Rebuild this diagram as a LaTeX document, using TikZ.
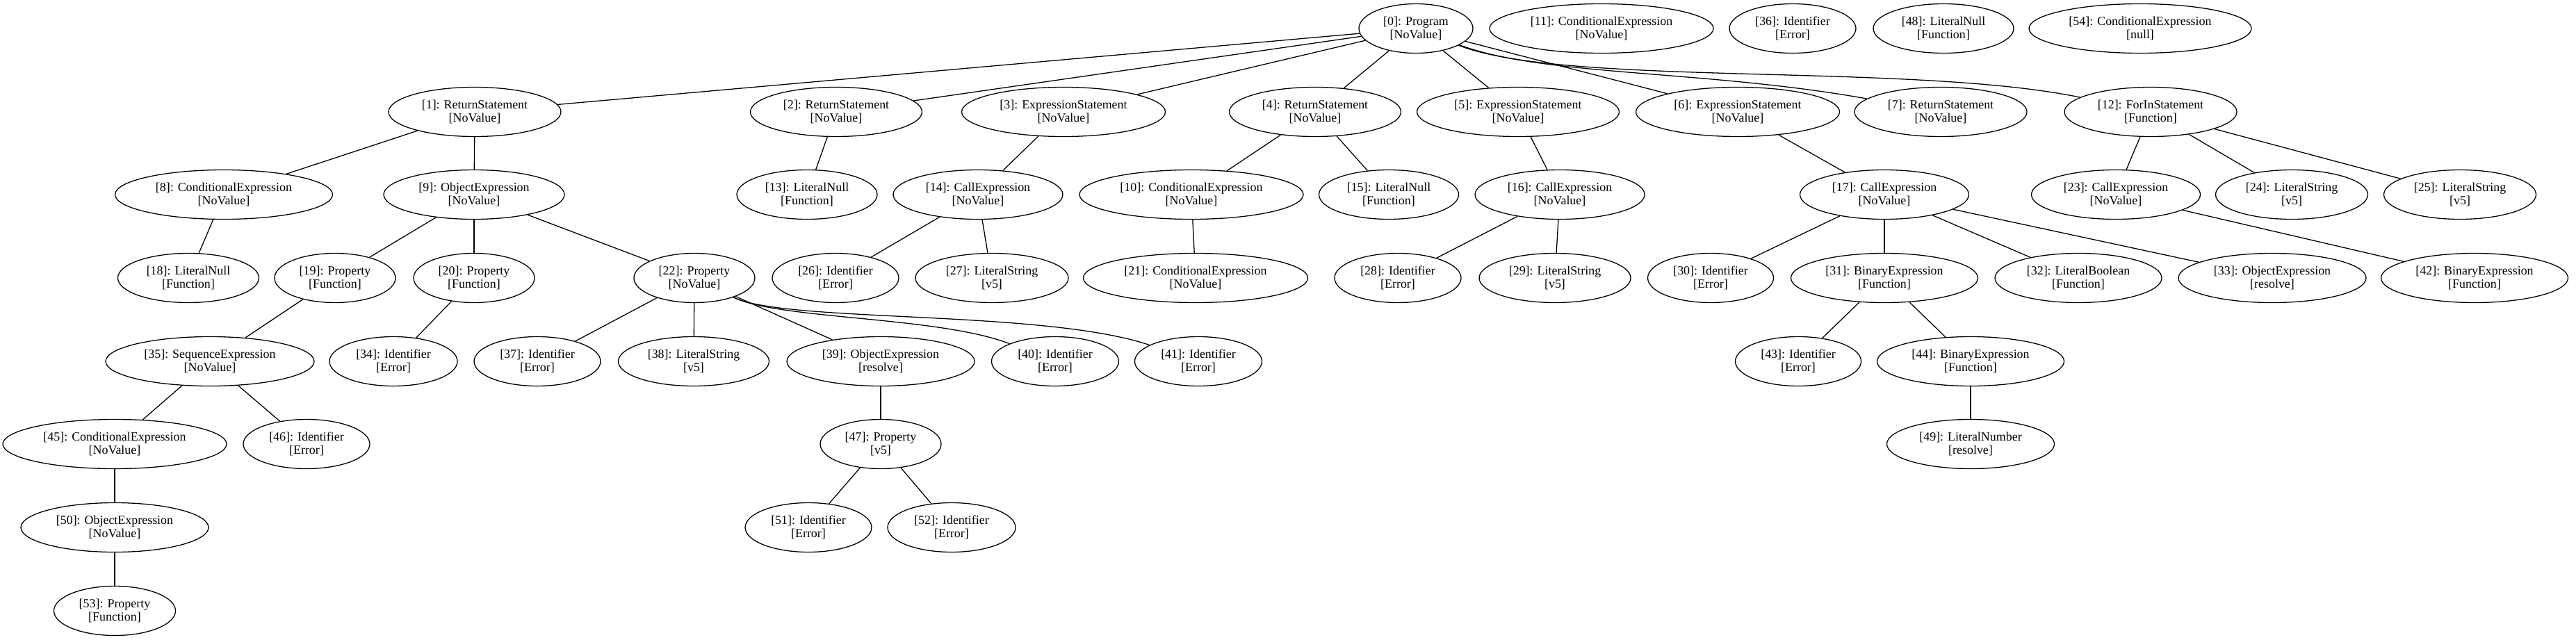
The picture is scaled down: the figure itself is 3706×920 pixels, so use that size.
\documentclass[tikz,border=0pt]{standalone}
\usepackage{fontspec}
\setmainfont{Liberation Serif}
\usetikzlibrary{shapes.geometric}
\begin{document}
\begin{tikzpicture}[x=0.03cm,y=-0.03cm,
  nd/.style={draw, ellipse, line width=1.1pt, inner sep=0pt, align=center,
    minimum height=71*0.03cm, font=\fontsize{15.3}{16.8}\selectfont},
  ed/.style={line width=1.1pt}]
\useasboundingbox (0,0) rectangle (3706,920);
% rank 0
\node[nd, minimum width=164*0.03cm] (n0) at (2037,41) {[0]: Program\\{}[NoValue]};
\node[nd, minimum width=322*0.03cm] (n11) at (2304,41) {[11]: ConditionalExpression\\{}[NoValue]};
\node[nd, minimum width=182*0.03cm] (n36) at (2579,41) {[36]: Identifier\\{}[Error]};
\node[nd, minimum width=202*0.03cm] (n48) at (2796,41) {[48]: LiteralNull\\{}[Function]};
\node[nd, minimum width=320*0.03cm] (n54) at (3079,41) {[54]: ConditionalExpression\\{}[null]};
% rank 1
\node[nd, minimum width=248*0.03cm] (n1) at (683,161) {[1]: ReturnStatement\\{}[NoValue]};
\node[nd, minimum width=247*0.03cm] (n2) at (1203,161) {[2]: ReturnStatement\\{}[NoValue]};
\node[nd, minimum width=293*0.03cm] (n3) at (1530,161) {[3]: ExpressionStatement\\{}[NoValue]};
\node[nd, minimum width=247*0.03cm] (n4) at (1892,161) {[4]: ReturnStatement\\{}[NoValue]};
\node[nd, minimum width=291*0.03cm] (n5) at (2184,161) {[5]: ExpressionStatement\\{}[NoValue]};
\node[nd, minimum width=293*0.03cm] (n6) at (2500,161) {[6]: ExpressionStatement\\{}[NoValue]};
\node[nd, minimum width=248*0.03cm] (n7) at (2792,161) {[7]: ReturnStatement\\{}[NoValue]};
\node[nd, minimum width=248*0.03cm] (n12) at (3094,161) {[12]: ForInStatement\\{}[Function]};
% rank 2
\node[nd, minimum width=313*0.03cm] (n8) at (322,280) {[8]: ConditionalExpression\\{}[NoValue]};
\node[nd, minimum width=260*0.03cm] (n9) at (682,280) {[9]: ObjectExpression\\{}[NoValue]};
\node[nd, minimum width=202*0.03cm] (n13) at (1161,280) {[13]: LiteralNull\\{}[Function]};
\node[nd, minimum width=244*0.03cm] (n14) at (1407,280) {[14]: CallExpression\\{}[NoValue]};
\node[nd, minimum width=322*0.03cm] (n10) at (1714,280) {[10]: ConditionalExpression\\{}[NoValue]};
\node[nd, minimum width=201*0.03cm] (n15) at (1998,280) {[15]: LiteralNull\\{}[Function]};
\node[nd, minimum width=244*0.03cm] (n16) at (2244,280) {[16]: CallExpression\\{}[NoValue]};
\node[nd, minimum width=243*0.03cm] (n17) at (2711,280) {[17]: CallExpression\\{}[NoValue]};
\node[nd, minimum width=243*0.03cm] (n23) at (3044,280) {[23]: CallExpression\\{}[NoValue]};
\node[nd, minimum width=219*0.03cm] (n24) at (3297,280) {[24]: LiteralString\\{}[v5]};
\node[nd, minimum width=219*0.03cm] (n25) at (3539,280) {[25]: LiteralString\\{}[v5]};
% rank 3
\node[nd, minimum width=203*0.03cm] (n18) at (271,400) {[18]: LiteralNull\\{}[Function]};
\node[nd, minimum width=174*0.03cm] (n19) at (482,400) {[19]: Property\\{}[Function]};
\node[nd, minimum width=174*0.03cm] (n20) at (682,400) {[20]: Property\\{}[Function]};
\node[nd, minimum width=174*0.03cm] (n22) at (999,400) {[22]: Property\\{}[NoValue]};
\node[nd, minimum width=182*0.03cm] (n26) at (1202,400) {[26]: Identifier\\{}[Error]};
\node[nd, minimum width=220*0.03cm] (n27) at (1427,400) {[27]: LiteralString\\{}[v5]};
\node[nd, minimum width=323*0.03cm] (n21) at (1720,400) {[21]: ConditionalExpression\\{}[NoValue]};
\node[nd, minimum width=182*0.03cm] (n28) at (2011,400) {[28]: Identifier\\{}[Error]};
\node[nd, minimum width=218*0.03cm] (n29) at (2237,400) {[29]: LiteralString\\{}[v5]};
\node[nd, minimum width=181*0.03cm] (n30) at (2461,400) {[30]: Identifier\\{}[Error]};
\node[nd, minimum width=269*0.03cm] (n31) at (2711,400) {[31]: BinaryExpression\\{}[Function]};
\node[nd, minimum width=240*0.03cm] (n32) at (2990,400) {[32]: LiteralBoolean\\{}[Function]};
\node[nd, minimum width=270*0.03cm] (n33) at (3269,400) {[33]: ObjectExpression\\{}[resolve]};
\node[nd, minimum width=269*0.03cm] (n42) at (3560,400) {[42]: BinaryExpression\\{}[Function]};
% rank 4
\node[nd, minimum width=300*0.03cm] (n35) at (302,520) {[35]: SequenceExpression\\{}[NoValue]};
\node[nd, minimum width=184*0.03cm] (n34) at (566,520) {[34]: Identifier\\{}[Error]};
\node[nd, minimum width=182*0.03cm] (n37) at (773,520) {[37]: Identifier\\{}[Error]};
\node[nd, minimum width=217*0.03cm] (n38) at (998,520) {[38]: LiteralString\\{}[v5]};
\node[nd, minimum width=270*0.03cm] (n39) at (1267,520) {[39]: ObjectExpression\\{}[resolve]};
\node[nd, minimum width=183*0.03cm] (n40) at (1518,520) {[40]: Identifier\\{}[Error]};
\node[nd, minimum width=183*0.03cm] (n41) at (1724,520) {[41]: Identifier\\{}[Error]};
\node[nd, minimum width=181*0.03cm] (n43) at (2587,520) {[43]: Identifier\\{}[Error]};
\node[nd, minimum width=269*0.03cm] (n44) at (2835,520) {[44]: BinaryExpression\\{}[Function]};
% rank 5
\node[nd, minimum width=322*0.03cm] (n45) at (165,639) {[45]: ConditionalExpression\\{}[NoValue]};
\node[nd, minimum width=182*0.03cm] (n46) at (441,639) {[46]: Identifier\\{}[Error]};
\node[nd, minimum width=174*0.03cm] (n47) at (1267,639) {[47]: Property\\{}[v5]};
\node[nd, minimum width=241*0.03cm] (n49) at (2835,639) {[49]: LiteralNumber\\{}[resolve]};
% rank 6
\node[nd, minimum width=270*0.03cm] (n50) at (165,759) {[50]: ObjectExpression\\{}[NoValue]};
\node[nd, minimum width=182*0.03cm] (n51) at (1163,759) {[51]: Identifier\\{}[Error]};
\node[nd, minimum width=184*0.03cm] (n52) at (1369,759) {[52]: Identifier\\{}[Error]};
% rank 7
\node[nd, minimum width=175*0.03cm] (n53) at (165,879) {[53]: Property\\{}[Function]};
% edges
\foreach \a/\b in {n0/n1,n0/n2,n0/n3,n0/n4,n0/n5,n0/n6,
  n1/n8,n1/n9,n2/n13,n3/n14,n4/n10,n4/n15,n5/n16,n6/n17,
  n12/n23,n12/n24,n12/n25,n8/n18,n9/n19,n9/n20,n9/n22,
  n14/n26,n14/n27,n10/n21,n16/n28,n16/n29,
  n17/n30,n17/n31,n17/n32,n17/n33,n23/n42,
  n19/n35,n20/n34,n22/n37,n22/n38,n22/n39,
  n31/n43,n31/n44,n35/n45,n35/n46,n39/n47,n44/n49,
  n45/n50,n47/n51,n47/n52,n50/n53}
  \draw[ed] (\a) -- (\b);
\draw[ed] (n0) .. controls (2220,110) and (2450,100) .. (n7);
\draw[ed] (n0) .. controls (2250,125) and (2750,90) .. (n12);
\draw[ed] (n22) .. controls (1120,460) and (1350,455) .. (n40);
\draw[ed] (n22) .. controls (1130,465) and (1500,445) .. (n41);
\end{tikzpicture}
\end{document}
